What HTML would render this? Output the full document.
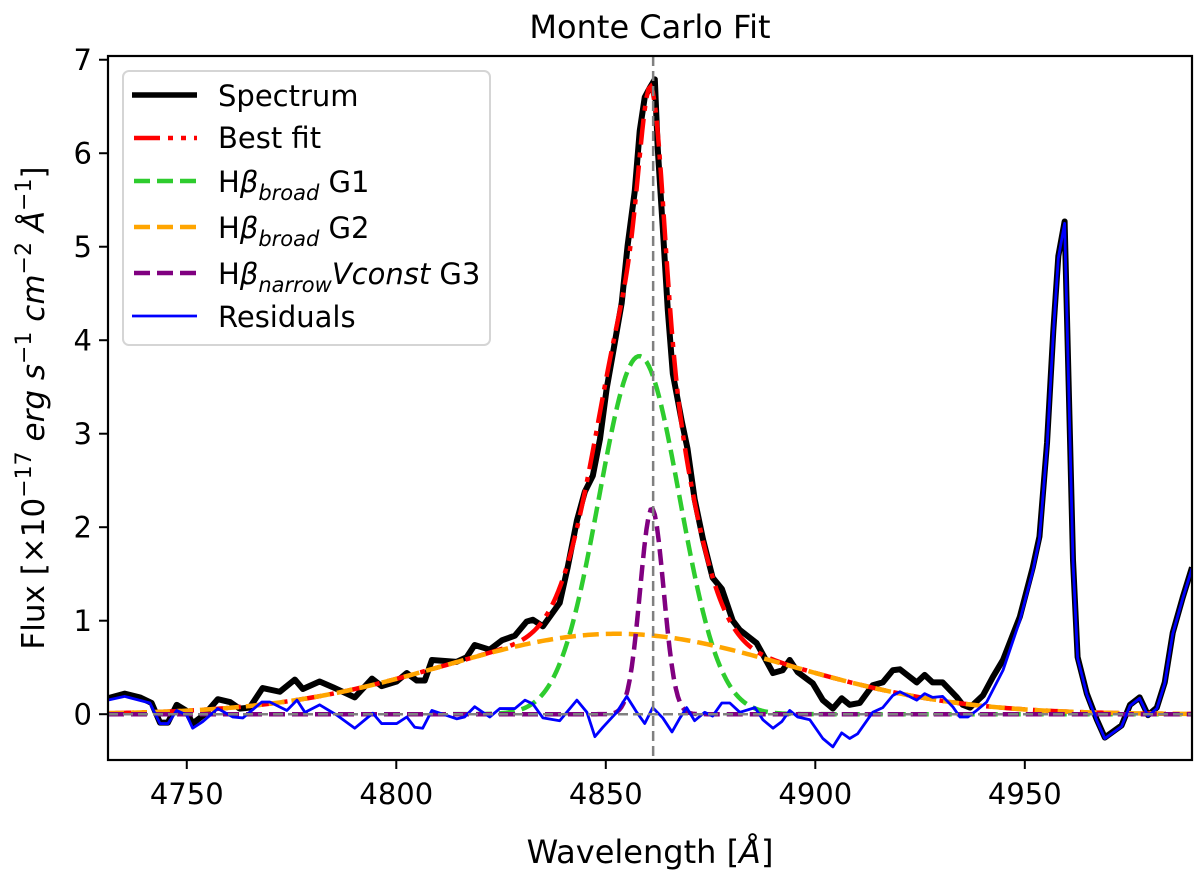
<!DOCTYPE html>
<html><head><meta charset="utf-8"><title>Monte Carlo Fit</title>
<style>
body{margin:0;background:#fff;}
svg{display:block;font-family:"DejaVu Sans","Liberation Sans",sans-serif;}
</style></head>
<body>
<svg id="chart" width="1200" height="878" viewBox="0 0 1200 878" xmlns="http://www.w3.org/2000/svg">
<rect width="1200" height="878" fill="#fff"/>
<text x="650" y="38" font-size="32" text-anchor="middle">Monte Carlo Fit</text>
<defs><clipPath id="plotclip"><rect x="108" y="56" width="1084" height="704"/></clipPath></defs>
<g id="series" clip-path="url(#plotclip)"></g>
<g id="axes"></g>
<text x="650" y="863" font-size="32" text-anchor="middle">Wavelength [<tspan font-style="italic">Å</tspan>]</text>
<text transform="translate(44,408) rotate(-90)" font-size="31" text-anchor="middle">Flux [×10<tspan dy="-13" font-size="22">−17</tspan><tspan dy="13" font-style="italic"> erg s</tspan><tspan dy="-13" font-size="22">−1</tspan><tspan dy="13" font-style="italic"> cm</tspan><tspan dy="-13" font-size="22">−2</tspan><tspan dy="13" font-style="italic"> Å</tspan><tspan dy="-13" font-size="22">−1</tspan><tspan dy="13">]</tspan></text>
<g id="legend">
<rect x="123" y="71" width="367" height="274" rx="6" fill="#fff" fill-opacity="0.8" stroke="#d5d5d5" stroke-width="2"/>
<g><line x1="132" y1="95" x2="197" y2="95" stroke="#000" stroke-width="5.5"/><text x="218" y="106" font-size="29">Spectrum</text></g>
<g><line x1="134" y1="138" x2="197" y2="138" stroke="red" stroke-width="4.5" stroke-dasharray="26,8,5,8,5,8"/><text x="218" y="148" font-size="29">Best fit</text></g>
<g><line x1="134" y1="181" x2="197" y2="181" stroke="#2ecc2e" stroke-width="4.5" stroke-dasharray="16,7"/><text x="218" y="192" font-size="29">H<tspan font-style="italic">β</tspan><tspan font-size="21" dy="8" font-style="italic">broad</tspan><tspan dy="-8"> G1</tspan></text></g>
<g><line x1="134" y1="227" x2="197" y2="227" stroke="orange" stroke-width="4.5" stroke-dasharray="16,7"/><text x="218" y="238" font-size="29">H<tspan font-style="italic">β</tspan><tspan font-size="21" dy="8" font-style="italic">broad</tspan><tspan dy="-8"> G2</tspan></text></g>
<g><line x1="134" y1="273" x2="197" y2="273" stroke="purple" stroke-width="4.5" stroke-dasharray="16,7"/><text x="218" y="284" font-size="29">H<tspan font-style="italic">β</tspan><tspan font-size="21" dy="8" font-style="italic">narrow</tspan><tspan dy="-8" font-style="italic">Vconst</tspan><tspan> G3</tspan></text></g>
<g><line x1="132" y1="316" x2="197" y2="316" stroke="blue" stroke-width="2.8"/><text x="218" y="327" font-size="29">Residuals</text></g>
</g>
</svg>
<script>
const specWave=[4731.1,4735.2,4738.8,4741.6,4743.6,4745.5,4747.6,4749.8,4751.4,4754.3,4757.4,4760.3,4762.6,4765,4768.1,4772.2,4775.8,4777.7,4781.7,4784.8,4790.1,4794.2,4796.5,4800.1,4802.5,4804.9,4806.8,4808.5,4814.4,4816.8,4818.7,4822.3,4825.2,4828.3,4831.1,4832.6,4835,4839,4840.9,4843.1,4845,4846.9,4848.6,4850.2,4851.7,4853.8,4855.2,4856.9,4858.1,4859.3,4860.5,4861.7,4862.4,4863.6,4864.8,4866,4868.1,4869.5,4871.2,4873.2,4875.5,4877.7,4880.3,4882,4886,4889.9,4892.2,4893.9,4895.8,4899.4,4901.8,4904.2,4906.3,4908.2,4910.6,4913.7,4916.1,4918.5,4920.2,4924.2,4926.1,4928,4930.4,4933.8,4935.2,4936.9,4940,4942.4,4944.8,4948.8,4951.9,4953.5,4955.3,4956.8,4958,4959.5,4961.5,4962.6,4964.8,4967.2,4969.1,4973.1,4975.1,4977.4,4979.4,4981.5,4983.4,4985.3,4987.7,4989.9];
const specFlux=[0.17,0.22,0.18,0.12,-0.09,-0.09,0.10,0.04,-0.10,0,0.16,0.13,0.06,0.07,0.28,0.24,0.37,0.27,0.35,0.29,0.18,0.38,0.30,0.35,0.44,0.36,0.36,0.58,0.56,0.61,0.74,0.69,0.79,0.84,0.99,1.01,0.94,1.19,1.57,2.07,2.38,2.55,2.94,3.48,3.86,4.40,5.01,5.59,6.24,6.60,6.70,6.79,6.05,5.2,4.32,3.64,3.14,2.84,2.30,1.87,1.46,1.34,1.0,0.9,0.76,0.44,0.47,0.58,0.45,0.33,0.15,0.06,0.17,0.10,0.12,0.31,0.34,0.47,0.48,0.34,0.42,0.34,0.34,0.18,0.10,0.07,0.2,0.4,0.58,1.04,1.57,1.9,2.9,4.1,4.9,5.27,1.65,0.61,0.22,-0.06,-0.25,-0.12,0.10,0.18,-0.01,0.07,0.34,0.87,1.25,1.57];
const resWave=[4731.1,4735.2,4741.2,4743.6,4745.5,4747.6,4750,4751.4,4753.8,4757.4,4761,4763.4,4767.9,4769.8,4773.9,4776.3,4778.2,4781.7,4785.8,4790.1,4794.4,4796.5,4800.1,4802.5,4804.4,4806.3,4808.5,4814.4,4816.3,4818.7,4822.3,4824.7,4828.3,4830.7,4832.6,4835,4839,4843.1,4845.5,4847.4,4849.3,4852.6,4855,4857.4,4859.3,4861.2,4863.6,4865.8,4867.7,4869.3,4871.2,4873.6,4875.5,4877.7,4879.6,4882,4885.6,4887.5,4889.9,4892,4893.9,4895.8,4898.7,4901.8,4904.2,4906.3,4908.2,4910.1,4913.7,4916.1,4918.5,4920.2,4924.2,4926.1,4928,4930.4,4932.8,4934.5,4936.4,4938.5,4940.9,4944.8,4948.8,4951.9,4953.5,4955.3,4956.8,4958,4959.5,4961.5,4962.6,4964.8,4967.2,4969.1,4973.1,4975.1,4977.4,4979.4,4981.5,4983.4,4985.3,4987.7,4989.9];
const resFlux=[0.15,0.19,0.12,-0.1,-0.1,0.04,-0.01,-0.15,-0.08,0.06,-0.03,-0.04,0.13,0.13,0.04,0.15,0.02,0.1,-0.01,-0.15,0.01,-0.1,-0.1,-0.03,-0.14,-0.15,0.04,-0.05,-0.03,0.08,-0.03,0.06,0.06,0.15,0.11,-0.04,-0.07,0.15,0.02,-0.24,-0.14,0.02,0.19,0.02,-0.1,0.07,-0.04,-0.19,-0.04,0.07,-0.07,0.02,-0.02,0.12,0.12,0.02,0.07,-0.06,-0.15,-0.08,0.04,-0.03,-0.06,-0.26,-0.35,-0.2,-0.26,-0.21,0.02,0.07,0.2,0.24,0.15,0.22,0.18,0.19,0.08,-0.03,-0.03,0.04,0.13,0.47,1.0,1.53,1.88,2.86,4.07,4.88,5.25,1.64,0.6,0.21,-0.07,-0.26,-0.13,0.09,0.17,-0.02,0.06,0.33,0.86,1.24,1.56];
const gaussNames=['g1','g2','g3'];
const gaussAmp=[3.83,0.86,2.2];
const gaussCenter=[4858,4852.6,4861];
const gaussSigma=[9.6,41,2.8];
const xTicks=[4750,4800,4850,4900,4950];
const yTicks=[0,1,2,3,4,5,6,7];
const refLine=4861.3;

const X0=108,X1=1192,Y0=56,Y1=760;
const xMin=4731.2,xMax=4989.9,yMin=-0.49,yMax=7.04;
function xs(v){return X0+(v-xMin)/(xMax-xMin)*(X1-X0);}
function ys(v){return Y1-(v-yMin)/(yMax-yMin)*(Y1-Y0);}
const NS='http://www.w3.org/2000/svg';
const series=document.getElementById('series');
const axes=document.getElementById('axes');
function mk(tag,attrs,parent){const e=document.createElementNS(NS,tag);for(const k in attrs)e.setAttribute(k,attrs[k]);parent.appendChild(e);return e;}
function pathFrom(wx,fy){return wx.map((w,i)=>(i?'L':'M')+xs(w).toFixed(2)+','+ys(fy[i]).toFixed(2)).join(' ');}
function gauss(i,w){return gaussAmp[i]*Math.exp(-Math.pow(w-gaussCenter[i],2)/(2*gaussSigma[i]*gaussSigma[i]));}

let p=mk('path',{d:pathFrom(specWave,specFlux),fill:'none',stroke:'#000','stroke-width':6,'stroke-linejoin':'round'},series);



const grid=[];for(let w=xMin;w<=xMax+0.01;w+=0.5)grid.push(w);
const fit=grid.map(w=>gaussNames.reduce((s,_,i)=>s+gauss(i,w),0));
p=mk('path',{d:pathFrom(grid,fit),fill:'none',stroke:'red','stroke-width':4.5,'stroke-dasharray':'26,8,5,8'},series);


const gColors=['#2ecc2e','orange','purple'];
gaussNames.forEach((n,i)=>{
  const vals=grid.map(w=>gauss(i,w));
  const e=mk('path',{d:pathFrom(grid,vals),fill:'none',stroke:gColors[i],'stroke-width':4.5,'stroke-dasharray':'16,7'},series);
  
  
});
p=mk('path',{d:pathFrom(resWave,resFlux),fill:'none',stroke:'blue','stroke-width':2.8,'stroke-linejoin':'round'},series);


p=mk('line',{x1:X0,x2:X1,y1:ys(0),y2:ys(0),stroke:'#808080','stroke-width':2.5,'stroke-dasharray':'10,5'},series);


p=mk('line',{x1:xs(refLine),x2:xs(refLine),y1:Y0,y2:Y1,stroke:'#808080','stroke-width':2.5,'stroke-dasharray':'10,5'},series);



p=mk('rect',{x:X0,y:Y0,width:X1-X0,height:Y1-Y0,fill:'none',stroke:'#000','stroke-width':2.2},axes);


xTicks.forEach(t=>{
  const g=mk('g',{},axes);
  
  
  mk('line',{x1:xs(t),x2:xs(t),y1:Y1,y2:Y1+9,stroke:'#000','stroke-width':2},g);
  const tx=mk('text',{x:xs(t),y:Y1+44,'font-size':29,'text-anchor':'middle'},g);
  tx.textContent=t;
});
yTicks.forEach(t=>{
  const g=mk('g',{},axes);
  
  
  mk('line',{x1:X0-9,x2:X0,y1:ys(t),y2:ys(t),stroke:'#000','stroke-width':2},g);
  const tx=mk('text',{x:X0-16,y:ys(t)+10.5,'font-size':29,'text-anchor':'end'},g);
  tx.textContent=t;
});
</script>
</body></html>
